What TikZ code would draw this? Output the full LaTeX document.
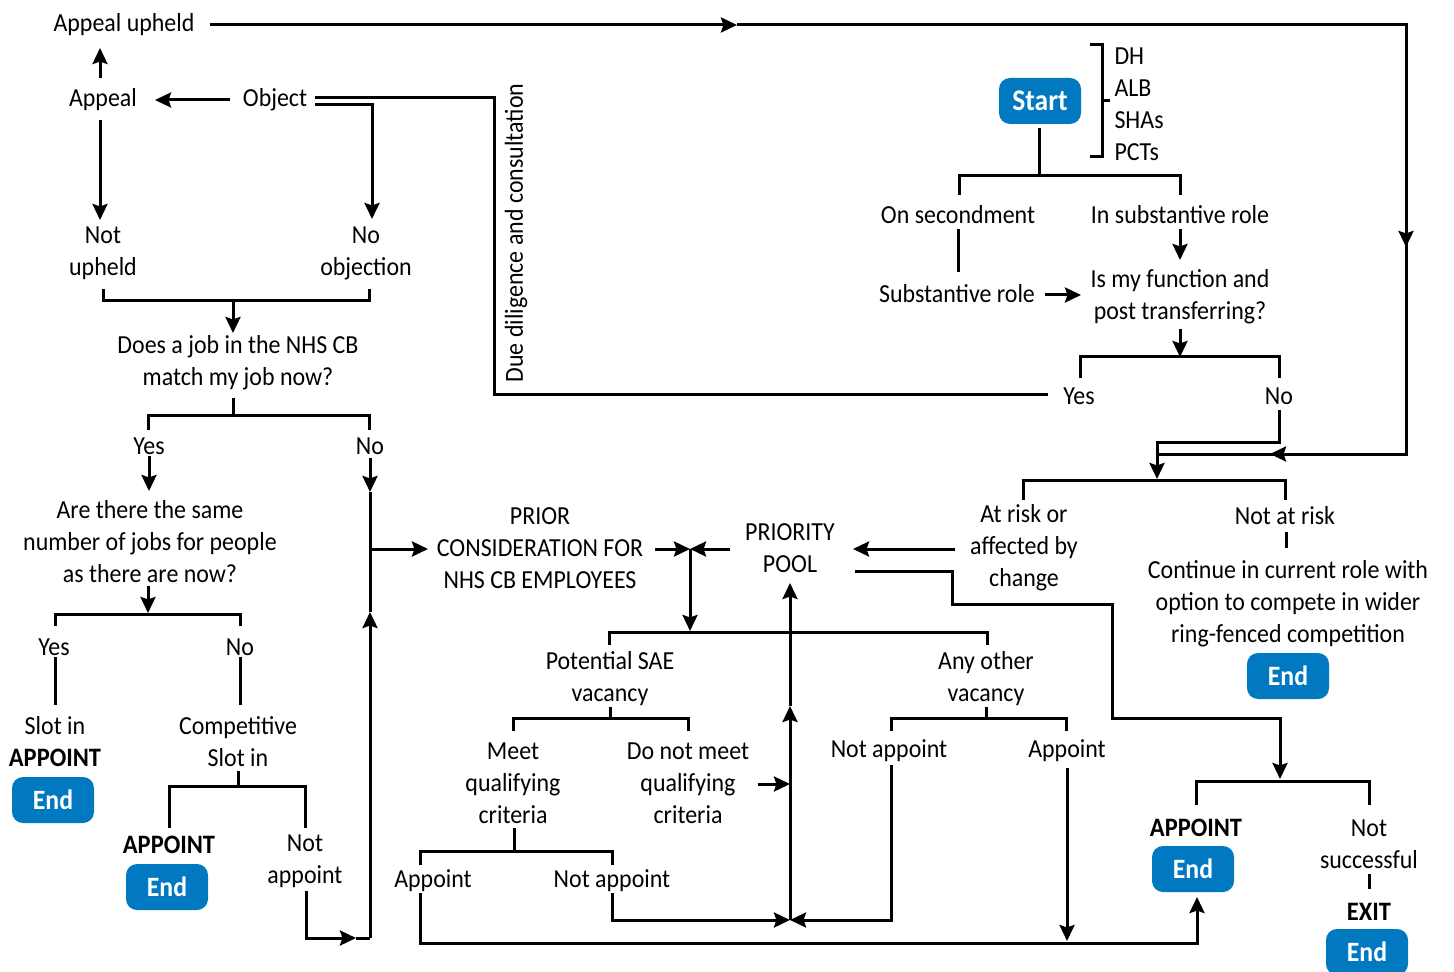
\documentclass[tikz,border=0pt]{standalone}
\usepackage{fontspec}
\setmainfont{Carlito}[FakeStretch=0.92]
\usetikzlibrary{arrows.meta}
\definecolor{nhsblue}{RGB}{0,121,193}
\begin{document}
\begin{tikzpicture}[x=0.5pt,y=-0.5pt,line width=1.5pt,
  txt/.style={inner sep=0pt,align=center,yshift=-1pt,font=\fontsize{13}{16}\selectfont},
  bld/.style={inner sep=0pt,align=center,yshift=-1pt,font=\fontsize{13.3}{16}\selectfont\bfseries},
  endbox/.style={fill=nhsblue,text=white,rounded corners=5.5pt,minimum width=41pt,minimum height=23pt,inner sep=0pt,font=\fontsize{14}{16}\selectfont\bfseries},
  arr/.style={-{Stealth[length=8pt,width=7.5pt,inset=1.2pt]}}]
\useasboundingbox (0,0) rectangle (1454,972);

% ---------- text nodes ----------
\node[txt] (au) at (124,23) {Appeal upheld};
\node[txt] (appeal) at (103,98) {Appeal};
\node[txt] (object) at (275,98) {Object};
\node[txt] (notup) at (103,251) {Not\\upheld};
\node[txt] (noobj) at (366,251) {No\\objection};
\node[txt] (does) at (238,361) {Does a job in the NHS CB\\match my job now?};
\node[txt] (yes1) at (149,444) {Yes};
\node[txt] (no1) at (370,444) {No};
\node[txt] (same) at (150,540) {Are there the same\\number of jobs for people\\as there are now?};
\node[txt] (yes2) at (54,645) {Yes};
\node[txt] (no2) at (240,645) {No};
\node[txt] (slot) at (55,724) {Slot in};
\node[bld] (app1) at (55,756) {APPOINT};
\node[endbox] (end1) at (53,800) {End};
\node[txt] (comp) at (238,740) {Competitive\\Slot in};
\node[bld] (app2) at (169,843) {APPOINT};
\node[endbox] (end2) at (167,887) {End};
\node[txt] (notapp1) at (305,859) {Not\\appoint};
\node[txt] (prior) at (540,546) {PRIOR\\CONSIDERATION FOR\\NHS CB EMPLOYEES};
\node[txt] (pool) at (790,546) {PRIORITY\\POOL};
\node[txt,rotate=90] (due) at (516,231) {Due diligence and consultation};
\node[endbox,minimum width=41pt,minimum height=23pt,font=\fontsize{15}{16}\selectfont\bfseries] (start) at (1040,101) {Start};
\node[txt,align=left,anchor=west] (orgs) at (1113,102) {DH\\ALB\\SHAs\\PCTs};
\node[txt] (onsec) at (958,213) {On secondment};
\node[txt] (insub) at (1180,213) {In substantive role};
\node[txt] (subrole) at (957,292) {Substantive role};
\node[txt] (func) at (1180,295) {Is my function and\\post transferring?};
\node[txt] (yes3) at (1079,394) {Yes};
\node[txt] (no3) at (1279,394) {No};
\node[txt] (atrisk) at (1024,546) {At risk or\\affected by\\change};
\node[txt] (notrisk) at (1285,514) {Not at risk};
\node[txt] (cont) at (1288,602) {Continue in current role with\\option to compete in wider\\ring-fenced competition};
\node[endbox] (end3) at (1288,676) {End};
\node[txt] (psae) at (610,677) {Potential SAE\\vacancy};
\node[txt] (anyo) at (986,677) {Any other\\vacancy};
\node[txt] (meet) at (513,781) {Meet\\qualifying\\criteria};
\node[txt] (dnm) at (688,781) {Do not meet\\qualifying\\criteria};
\node[txt] (app3) at (433,879) {Appoint};
\node[txt] (notapp2) at (612,879) {Not appoint};
\node[txt] (notapp3) at (889,749) {Not appoint};
\node[txt] (app4) at (1067,749) {Appoint};
\node[bld] (app5) at (1196,826) {APPOINT};
\node[endbox] (end4) at (1193,869) {End};
\node[txt] (notsucc) at (1369,842) {Not\\successful};
\node[bld] (exit) at (1369,910) {EXIT};
\node[endbox] (end5) at (1367,952) {End};

% ---------- junction coordinates ----------
\coordinate (topmid) at (737,25);
\coordinate (rtop) at (1406,25);
\coordinate (rmid) at (1406,247);
\coordinate (rbot) at (1406,454);
\coordinate (rarr) at (1270,454);
\coordinate (join) at (1157,454);
\coordinate (prij) at (690,549);
\coordinate (poolj) at (790,920);

% ---------- connectors: top left ----------
\draw[arr] (100,78) -- (100,48);
\draw[arr] (230,100) -- (155,100);
\draw[arr] (100,120) -- (100,220);
\draw (315,98) -- (494,98) -- (494,395) -- (1048,395);
\draw[arr] (315,105) -- (372,105) -- (372,219);
\draw[arr] (210,25) -- (topmid);
\draw (topmid) -- (rtop) -- (rmid);
\draw[arr] (rtop) -- (rmid);
\draw (rmid) -- (rbot) -- (rarr);
\draw[arr] (rbot) -- (rarr);
\draw (rarr) -- (join);
\draw[arr] (1279,410) -- (1279,442) -- (1157,442) -- (1157,479);
\draw (1023,500) -- (1023,480) -- (1285,480) -- (1285,500);

\draw (103,289) -- (103,301) -- (369,301) -- (369,289);
\draw[arr] (233,301) -- (233,333);
\draw (233,398) -- (233,416);
\draw (148,430) -- (148,416) -- (369,416) -- (369,430);
\draw[arr] (149,456) -- (149,491);
\draw[arr] (148,586) -- (148,613);
\draw (55,626) -- (55,614) -- (240,614) -- (240,626);
\draw (55,657) -- (55,705);
\draw (240,657) -- (240,705);
\draw (238,771) -- (238,786);
\draw (169,828) -- (169,786) -- (305,786) -- (305,828);
\draw[arr] (306,891) -- (306,938) -- (356,938);
\draw (356,938) -- (370,938);
\draw[arr] (370,938) -- (370,612);
\draw[arr] (370,458) -- (370,492);
\draw (370,492) -- (370,612);
\draw[arr] (370,549) -- (428,549);

% ---------- middle ----------
\draw[arr] (655,549) -- (prij);
\draw[arr] (730,549) -- (prij);
\draw[arr] (prij) -- (690,631);
\draw[arr] (955,549) -- (853,549);
\draw[arr] (855,571) -- (952,571) -- (952,604) -- (1112,604) -- (1112,718) -- (1280,718) -- (1280,779);
\draw (609,645) -- (609,632) -- (987,632) -- (987,645);
\draw (610,707) -- (610,718);
\draw (513,731) -- (513,718) -- (688,718) -- (688,731);
\draw (986,707) -- (986,718);
\draw (891,731) -- (891,718) -- (1066,718) -- (1066,731);
\draw[arr] (758,784) -- (790,784);
\draw (514,828) -- (514,851);
\draw (420,865) -- (420,851) -- (612,851) -- (612,865);
\draw[arr] (420,893) -- (420,943) -- (1197,943) -- (1197,897);
\draw[arr] (612,893) -- (612,920) -- (poolj);
\draw[arr] (891,765) -- (891,920) -- (poolj);
\draw[arr] (poolj) -- (790,706);
\draw[arr] (790,706) -- (790,583);
\draw[arr] (1067,768) -- (1067,941);
\draw (1196,805) -- (1196,781) -- (1369,781) -- (1369,805);
\draw (1369,874) -- (1369,889);

% ---------- top right ----------
\draw (1039,128) -- (1039,176);
\draw (959,195) -- (959,176) -- (1180,176) -- (1180,195);
\draw (1090,45) -- (1102,45) -- (1102,157) -- (1090,157);
\draw (1102,101) -- (1110,101);
\draw (958,229) -- (958,272);
\draw[arr] (1045,295) -- (1081,295);
\draw[arr] (1180,229) -- (1180,260);
\draw[arr] (1180,329) -- (1180,357);
\draw (1080,378) -- (1080,357) -- (1279,357) -- (1279,378);
\draw (1286,532) -- (1286,548);
\end{tikzpicture}
\end{document}
